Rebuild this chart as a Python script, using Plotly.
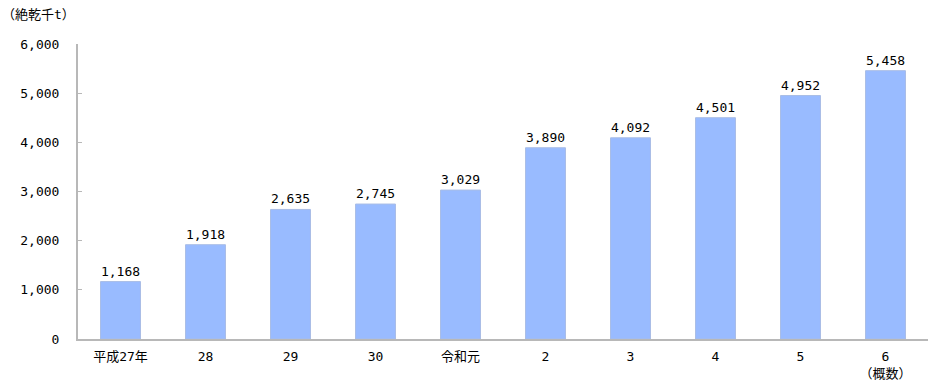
import plotly.graph_objects as go

categories = ["平成27年", "28", "29", "30", "令和元", "2", "3", "4", "5", "6<br>（概数）"]
values = [1168, 1918, 2635, 2745, 3029, 3890, 4092, 4501, 4952, 5458]
tick_vals = [0, 1000, 2000, 3000, 4000, 5000, 6000]
tick_text = ["0", "1,000", "2,000", "3,000", "4,000", "5,000", "6,000"]
unit_label = "（絶乾千t）"

FONT = "DejaVu Sans Mono, Noto Sans CJK JP, monospace"

fig = go.Figure()
fig.add_trace(go.Bar(
    x=categories, y=values,
    marker=dict(color="#99BBFF", line=dict(color="#A9BDE6", width=1)),
    width=0.47,
    text=[f"{v:,}" for v in values],
    textposition="outside",
    textfont=dict(size=13, color="#000000", family=FONT),
    cliponaxis=False,
))

fig.update_layout(
    width=945, height=392,
    margin=dict(l=78, r=17, t=44, b=53),
    paper_bgcolor="white", plot_bgcolor="white",
    showlegend=False,
    font=dict(family=FONT, size=13, color="#000000"),
    bargap=0.5,
    xaxis=dict(
        showline=True, linecolor="#B8B8B8", linewidth=2,
        ticks="", showgrid=False, tickfont=dict(size=13),
        ticklabelstandoff=4,
    ),
    yaxis=dict(
        range=[0, 6000], tickvals=tick_vals, ticktext=tick_text,
        showline=True, linecolor="#B8B8B8", linewidth=2,
        ticks="inside", ticklen=4, tickcolor="#B8B8B8",
        showgrid=False, zeroline=False, tickfont=dict(size=13),
        ticklabelstandoff=14,
    ),
    annotations=[dict(
        text=unit_label, xref="paper", yref="paper",
        x=-78/850, y=1 + 30/295, xanchor="left", yanchor="middle",
        showarrow=False, font=dict(size=13, family=FONT),
    )],
)

fig.write_html("out.html")
